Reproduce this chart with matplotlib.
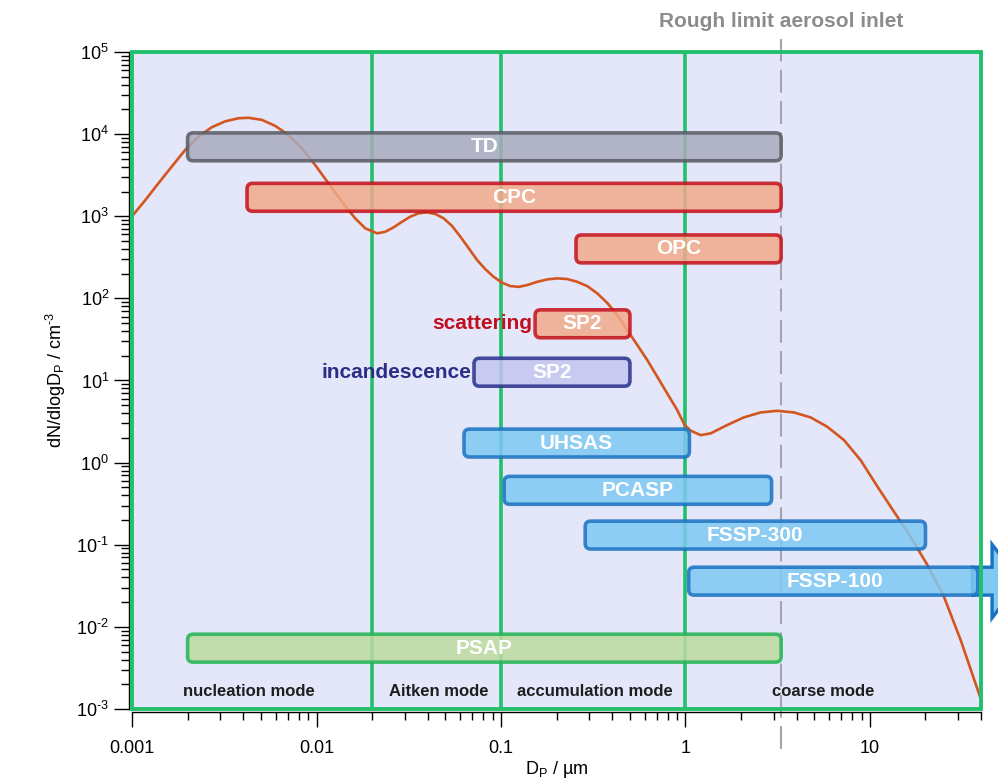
import numpy as np
import matplotlib.pyplot as plt
from matplotlib.patches import FancyBboxPatch, Polygon, Rectangle
from matplotlib.ticker import LogLocator, NullFormatter, FuncFormatter

plt.rcParams['font.family'] = ['Liberation Sans', 'DejaVu Sans']
plt.rcParams['mathtext.fontset'] = 'custom'
plt.rcParams['mathtext.rm'] = 'Liberation Sans'
plt.rcParams['mathtext.it'] = 'Liberation Sans:italic'
plt.rcParams['mathtext.bf'] = 'Liberation Sans:bold'

# number size distribution (um, cm-3)
dp = [0.001, 0.00118, 0.00139, 0.00164, 0.00194, 0.00229, 0.0027, 0.0032,
      0.00378, 0.00428, 0.00506, 0.00597, 0.00705, 0.00833, 0.00984,
      0.0116, 0.01373, 0.0162, 0.0184, 0.0213, 0.0236, 0.0262, 0.0291,
      0.0322, 0.0357, 0.0397, 0.0441, 0.0489, 0.0543, 0.0603, 0.0669,
      0.0742, 0.0823, 0.0912, 0.1014, 0.1124, 0.1248, 0.1386, 0.157,
      0.178, 0.201, 0.2284, 0.2588, 0.2933, 0.3324, 0.3767, 0.4268,
      0.4836, 0.548, 0.621, 0.703, 0.796, 0.902, 0.99, 1.07, 1.21, 1.37,
      1.68, 2.07, 2.55, 3.14, 3.87, 4.77, 5.87, 7.23, 8.9, 11.0, 13.5,
      16.6, 20.5, 25.2, 31.1, 39.8]
dn = [1000, 1570, 2520, 4010, 6400, 9300, 12100, 14300,
      15600, 15800, 14900, 12600, 9750, 6710, 4200,
      2520, 1500, 942, 711, 619, 647, 733, 857,
      986, 1084, 1115, 1064, 942, 760, 562, 406,
      293, 226, 183, 155, 141, 138, 145, 159,
      170, 175, 172, 159, 141, 115, 88, 62.6,
      41, 27, 17.7, 11.1, 6.96, 4.36, 2.86, 2.44, 2.16, 2.27,
      2.86, 3.55, 4.08, 4.27, 4.08, 3.55, 2.73, 1.88, 1.07, 0.507, 0.252,
      0.125, 0.0564, 0.0232, 0.0068, 0.00134]

# instrument size ranges (um) and the level of each row
names = ['TD', 'CPC', 'OPC', 'SP2', 'SP2', 'UHSAS', 'PCASP',
         'FSSP-300', 'FSSP-100', 'PSAP']
d_low = [0.002, 0.0042, 0.255, 0.153, 0.0714, 0.063, 0.104, 0.286, 1.04, 0.002]
d_high = [3.3, 3.3, 3.3, 0.5, 0.5, 1.05, 2.93, 20.0, 40.0, 3.3]
row_level = [7000, 1700, 400, 49, 12.6, 1.73, 0.46, 0.131, 0.036, 0.0055]
groups = ['gray', 'red', 'red', 'red', 'navy', 'blue', 'blue',
          'blue', 'blue', 'green']

modes = ['nucleation mode', 'Aitken mode', 'accumulation mode', 'coarse mode']
mode_pos = [0.0043, 0.0457, 0.321, 5.6]

x_ticks = [0.001, 0.01, 0.1, 1, 10]
x_tick_labels = ['0.001', '0.01', '0.1', '1', '10']
y_ticks = [1e-3, 1e-2, 1e-1, 1e0, 1e1, 1e2, 1e3, 1e4, 1e5]

inlet_limit = 3.3
mode_bounds = [0.02, 0.1, 1.0]

styles = {
    'gray': ('#a9abbd', '#5b5c63'),
    'red': ('#f2a98a', '#c4101c'),
    'navy': ('#c3c6f0', '#28308c'),
    'blue': ('#7fc9f2', '#1a72c2'),
    'green': ('#bcdb9f', '#22b455'),
}
green = '#22c06c'
dash_gray = '#a4a4b0'

fig = plt.figure(figsize=(9.98, 7.84), dpi=100)
ax = fig.add_axes([0.1323, 0.0957, 0.8507, 0.838])
ax.set_facecolor('#e4e6f9')
ax.set_xscale('log')
ax.set_yscale('log')
ax.set_xlim(0.001, 40)
ax.set_ylim(1e-3, 1e5)

for b in mode_bounds:
    ax.axvline(b, color=green, lw=2.6, zorder=1.5)

ax.plot(dp, dn, color='#d2561e', lw=1.9, zorder=2, solid_joinstyle='round')

# inlet limit, running past the frame at both ends
ax.plot([inlet_limit, inlet_limit], [3.3e-4, 1.45e5], color=dash_gray,
        lw=1.5, dashes=(11, 4), zorder=1.8, clip_on=False)
ax.text(inlet_limit, 1e5 * 10 ** 0.37, 'Rough limit aerosol inlet',
        ha='center', va='center', fontsize=15, fontweight='bold',
        color='#8c8c8c', clip_on=False)

# bars are drawn in axes fractions so the corners stay round on log axes
to_axes = ax.transScale + ax.transLimits
bbox = ax.get_position()
aspect = (bbox.width * fig.get_figwidth()) / (bbox.height * fig.get_figheight())
half = 0.17  # half bar height in decades

for i, name in enumerate(names):
    fc, ec = styles[groups[i]]
    (x0, y0) = to_axes.transform((d_low[i], row_level[i] * 10 ** -half))
    (x1, y1) = to_axes.transform((d_high[i], row_level[i] * 10 ** half))
    if name == 'FSSP-100':
        x1 = 0.996
        ym = (y0 + y1) / 2
        head = 0.056
        arrow = Polygon([(0.99, y0), (1.013, y0), (1.013, ym - head),
                         (1.046, ym), (1.013, ym + head), (1.013, y1),
                         (0.99, y1)], closed=True, facecolor=fc,
                        edgecolor=ec, lw=2.4, transform=ax.transAxes,
                        clip_on=False, zorder=3)
        ax.add_patch(arrow)
    box = FancyBboxPatch((x0, y0), x1 - x0, y1 - y0,
                         boxstyle='round,pad=0,rounding_size=0.0065',
                         mutation_aspect=aspect, transform=ax.transAxes,
                         facecolor=fc, edgecolor=ec, lw=2.6, alpha=0.85,
                         zorder=3, clip_on=False)
    ax.add_patch(box)
    ax.text(np.sqrt(d_low[i] * d_high[i]), row_level[i], name,
            ha='center', va='center', color='white', fontsize=15,
            fontweight='bold', zorder=4)

ax.text(0.148, 49, 'scattering', ha='right', va='center', fontsize=15,
        fontweight='bold', color='#c0101e', zorder=4)
ax.text(0.069, 12.6, 'incandescence', ha='right', va='center', fontsize=15,
        fontweight='bold', color='#2b2e84', zorder=4)

for label, x in zip(modes, mode_pos):
    ax.text(x, 0.00165, label, ha='center', va='center', fontsize=12,
            fontweight='bold', color='#1e1e1e', zorder=4)

ax.add_patch(Rectangle((0, 0), 1, 1, transform=ax.transAxes, fill=False,
                       edgecolor=green, lw=2.8, zorder=3.5, clip_on=False))

for side in ['top', 'right']:
    ax.spines[side].set_visible(False)
for side in ['left', 'bottom']:
    ax.spines[side].set_position(('outward', 2))
    ax.spines[side].set_linewidth(1.0)

ax.set_xticks(x_ticks, x_tick_labels)
ax.xaxis.set_minor_locator(LogLocator(base=10, subs=np.arange(2, 10), numticks=100))
ax.xaxis.set_minor_formatter(NullFormatter())
ax.set_yticks(y_ticks)
ax.yaxis.set_major_formatter(
    FuncFormatter(lambda v, pos: r'$10^{\text{%d}}$' % round(np.log10(v))))
ax.yaxis.set_minor_locator(LogLocator(base=10, subs=np.arange(2, 10), numticks=100))
ax.yaxis.set_minor_formatter(NullFormatter())
ax.set_xlim(0.001, 40)
ax.set_ylim(1e-3, 1e5)
ax.tick_params(which='major', length=11, width=1, labelsize=13, direction='out')
ax.tick_params(which='minor', length=5.5, width=1, direction='out')
ax.tick_params(axis='x', which='major', pad=9)

ax.set_xlabel(r'D$_\mathrm{P}$ / µm', fontsize=13, labelpad=2)
ax.set_ylabel(r'dN/dlogD$_\mathrm{P}$ / cm$^{\text{-3}}$', fontsize=13, labelpad=6)

fig.savefig('out.png', dpi=100)
